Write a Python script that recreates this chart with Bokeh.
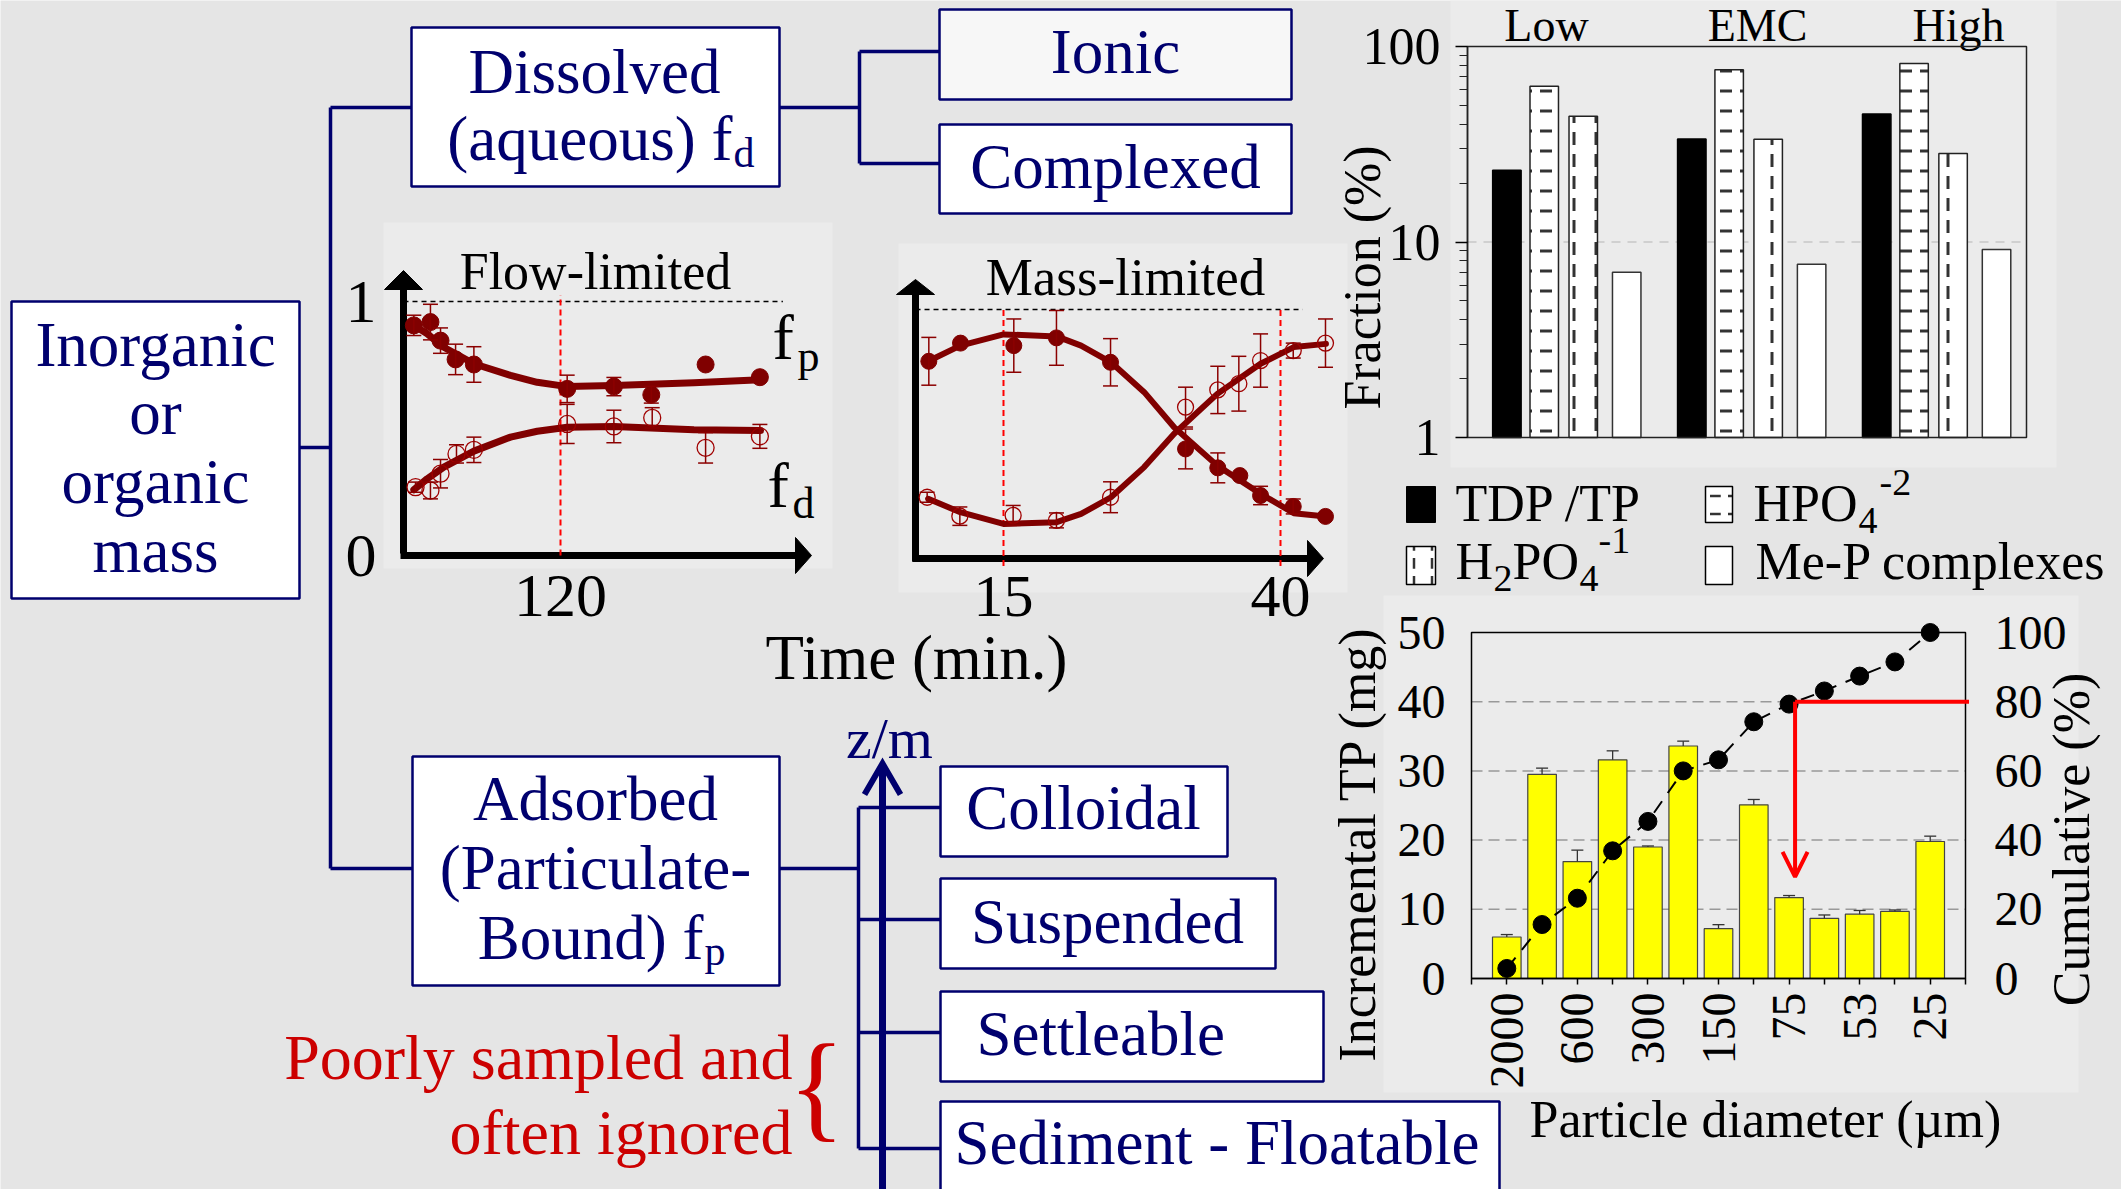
import math
from bokeh.plotting import figure
from bokeh.models import (Range1d, LinearAxis, LogAxis, LogScale, FixedTicker, Whisker, TeeHead,
                          ColumnDataSource, Arrow, OpenHead, PrintfTickFormatter)
from bokeh.core.properties import value
from bokeh.embed import file_html
from bokeh.resources import INLINE

W, H = 2121, 1189
FONT = "Liberation Serif"
NAVY = "#00006e"
BG = "#e5e5e5"
PANEL = "#ebebeb"
MAROON = "#800000"
RED_T = "#cc0000"

# ---------------- data: P speciation (top right, log scale %) ----------------
spec_groups = ["Low", "EMC", "High"]
tdp_tp = [23.3, 33.6, 45.1]
hpo4 = [62.6, 76.0, 81.9]
h2po4 = [44.0, 33.5, 28.4]
mep = [7.0, 7.7, 9.15]

# ---------------- data: particle size distribution (bottom right) ----------------
diam_labels = ["2000", "", "600", "", "300", "", "150", "", "75", "", "53", "", "25"]
incr_tp = [6.0, 29.5, 16.9, 31.6, 19.0, 33.6, 7.2, 25.1, 11.7, 8.7, 9.3, 9.7, 19.8]
incr_err = [0.35, 0.9, 1.65, 1.3, 0.15, 0.7, 0.58, 0.77, 0.29, 0.48, 0.53, 0.2, 0.77]
cum_pct = [2.9, 15.6, 23.2, 36.9, 45.4, 60.0, 63.2, 74.2, 79.3, 83.1, 87.4, 91.5, 100.0]
d80_level = 80
d80_x = 9.17
d80_arrow_to = 29.4

# ---------------- data: flow-limited schematic ----------------
flow_t_fp = [7.9, 20.6, 28.3, 39.8, 53.8, 125.1, 160.8, 189.4, 230.9, 272.4]
flow_fp = [0.906, 0.919, 0.846, 0.772, 0.752, 0.656, 0.665, 0.633, 0.752, 0.702]
flow_fp_err = [0.04, 0.07, 0.05, 0.06, 0.07, 0.054, 0.036, 0.033, 0, 0]
flow_t_fd = [9.2, 20.6, 28.3, 40.5, 53.8, 125.1, 160.8, 190.1, 230.9, 272.4]
flow_fd = [0.269, 0.256, 0.322, 0.400, 0.416, 0.518, 0.508, 0.542, 0.424, 0.469]
flow_fd_err = [0.02, 0.033, 0.056, 0.036, 0.05, 0.077, 0.064, 0.04, 0.06, 0.047]
flow_fit_t = [7.9, 18.1, 30.8, 53.8, 81.8, 102.2, 125.1, 160.8, 222.0, 272.9]
flow_fp_fit = [0.906, 0.873, 0.820, 0.755, 0.709, 0.682, 0.665, 0.669, 0.680, 0.692]
flow_fd_fit = [0.259, 0.302, 0.348, 0.411, 0.466, 0.489, 0.505, 0.508, 0.495, 0.492]
flow_ticks = [120]
flow_ref_end = 290

# ---------------- data: mass-limited schematic ----------------
mass_t_fp = [8.26, 11.12, 15.93, 19.78, 24.66, 31.43, 34.34, 36.33, 38.2, 41.15, 44.06]
mass_fp = [0.792, 0.865, 0.855, 0.886, 0.788, 0.440, 0.364, 0.333, 0.253, 0.209, 0.169]
mass_fp_err = [0.096, 0, 0.107, 0.11, 0.095, 0.08, 0.06, 0, 0.037, 0.03, 0]
mass_t_fd = [8.11, 11.06, 15.87, 19.78, 24.66, 31.43, 34.34, 36.24, 38.2, 41.15, 44.06]
mass_fd = [0.246, 0.170, 0.173, 0.153, 0.246, 0.608, 0.677, 0.702, 0.795, 0.835, 0.865]
mass_fd_err = [0.02, 0.037, 0.04, 0.03, 0.062, 0.08, 0.095, 0.11, 0.107, 0.03, 0.097]
mass_fit_t = [8.2, 11.1, 15.0, 19.8, 22.0, 24.7, 27.7, 30.4, 34.3, 38.2, 41.2, 44.1]
mass_fp_fit = [0.792, 0.855, 0.900, 0.892, 0.855, 0.788, 0.668, 0.527, 0.373, 0.260, 0.182, 0.169]
mass_fd_fit = [0.240, 0.186, 0.139, 0.146, 0.179, 0.246, 0.367, 0.501, 0.661, 0.782, 0.849, 0.862]
mass_ticks = [15, 40]
mass_ref_end = 42.0


# =====================================================================
# one canvas; default ranges are pixel coordinates (y downward)
# =====================================================================
p = figure(width=W, height=H, x_range=Range1d(0, W), y_range=Range1d(H, 0),
           output_backend="svg", toolbar_location=None, min_border=0,
           x_axis_location=None, y_axis_location=None,
           background_fill_color=BG, border_fill_color=BG, outline_line_color=None)
p.grid.visible = False


def xr(px_a, d_a, px_b, d_b):
    """range so that pixel column px_a shows d_a and px_b shows d_b"""
    s = (d_b - d_a) / (px_b - px_a)
    return (d_a - px_a * s, d_a + (W - px_a) * s)


def yr(py_a, d_a, py_b, d_b):
    """py measured from the top of the canvas"""
    s = (d_b - d_a) / (py_a - py_b)
    return (d_a - (H - py_a) * s, d_a + py_a * s)


# chart data windows
flow_x0, flow_x1 = 0, 311
mass_x0, mass_x1 = 7.06, 45.8
frac_x0, frac_x1 = -0.537, 2.486
tp_x0, tp_x1 = 0, len(incr_tp) + 1

fx = xr(403, 0, 560, 120)
fy = yr(555, 0, 301, 1)
mx = xr(1003, 15, 1280, 40)
my = yr(558, 0, 309, 1)
sx = xr(1467, frac_x0, 2026, frac_x1)
sy_log = yr(437, 0.0, 46, 2.0)
tx = xr(1471, tp_x0, 1965, tp_x1)
ty = yr(978, 0, 632, 50)
cy = yr(978, 0, 632, 100)

p.extra_x_ranges = {"flowx": Range1d(*fx), "massx": Range1d(*mx),
                    "fracx": Range1d(*sx), "tpx": Range1d(*tx)}
p.extra_y_ranges = {"flowy": Range1d(*fy), "massy": Range1d(*my),
                    "frac": Range1d(10 ** sy_log[0], 10 ** sy_log[1]),
                    "tpy": Range1d(*ty), "cum": Range1d(*cy)}
p.extra_y_scales = {"frac": LogScale()}


def txt(x, y, s, size, color="black", align="center", angle=0.0, baseline="alphabetic", shift=None):
    if shift is None:
        shift = 0.32 * size if baseline == "alphabetic" else 0
    p.text(x=[x], y=[y - shift], text=[s], text_font=value(FONT), text_font_size=f"{size}px",
           text_color=color, text_align=align, text_baseline=baseline, angle=angle)


def style_axis(ax, size, standoff, tick_out=0):
    ax.major_label_text_font = FONT
    ax.major_label_text_font_size = f"{size}px"
    ax.major_label_text_color = "black"
    ax.major_label_standoff = standoff
    ax.minor_tick_line_color = None
    ax.major_tick_in = 0
    ax.major_tick_out = tick_out
    if tick_out == 0:
        ax.major_tick_line_color = None


def err_bars(xs, ys, es, color, head, xn, yn, width=1.5, lower=True):
    b = [x for x, e in zip(xs, es) if e > 0]
    lo = [y - e if lower else y for y, e in zip(ys, es) if e > 0]
    up = [y + e for y, e in zip(ys, es) if e > 0]
    src = ColumnDataSource(dict(base=b, lower=lo, upper=up))
    w = Whisker(source=src, base="base", lower="lower", upper="upper",
                x_range_name=xn, y_range_name=yn,
                line_color=color, line_width=width, level="glyph",
                upper_head=TeeHead(size=head, line_color=color, line_width=width),
                lower_head=TeeHead(size=head, line_color=color, line_width=width) if lower else None)
    p.add_layout(w)


# ---------------- panels ----------------
p.quad(left=[383, 898, 1450, 1383], right=[832, 1347, 2056, 2078],
       top=[222, 243, 0, 595], bottom=[568, 592, 467, 1092],
       fill_color=PANEL, line_color=None)

# ---------------- diagram ----------------
conn = [
    ([299, 330], [447, 447]), ([330, 330], [107, 868]), ([330, 411], [107, 107]),
    ([330, 412], [868, 868]), ([779, 859], [107, 107]), ([859, 859], [51, 163]),
    ([859, 939], [51, 51]), ([859, 939], [163, 163]), ([779, 858], [868, 868]),
    ([858, 858], [807, 1148]), ([858, 940], [807, 807]), ([858, 940], [919, 919]),
    ([858, 940], [1032, 1032]), ([858, 940], [1148, 1148]),
]
p.multi_line(xs=[c[0] for c in conn], ys=[c[1] for c in conn], line_color=NAVY, line_width=3.5)

boxes = [
    (11, 299, 301, 598, "white"), (411, 779, 27, 186, "white"),
    (939, 1291, 9, 99, "#f7f7f7"), (939, 1291, 124, 213, "white"),
    (412, 779, 756, 985, "white"), (940, 1227, 766, 856, "white"),
    (940, 1275, 878, 968, "white"), (940, 1323, 991, 1081, "white"),
    (940, 1499, 1101, 1210, "white"),
]
p.quad(left=[b[0] for b in boxes], right=[b[1] for b in boxes],
       top=[b[2] for b in boxes], bottom=[b[3] for b in boxes],
       fill_color=[b[4] for b in boxes], line_color=NAVY, line_width=2.5)

p.line(x=[882, 882], y=[1189, 764], line_color=NAVY, line_width=7)
p.line(x=[864, 882, 900], y=[794, 763, 794], line_color=NAVY, line_width=6, line_join="miter")
txt(889, 757, "z/m", 58, NAVY)

DF = 63
SH = 0.32 * DF
for s, yy in [("Inorganic", 365), ("or", 433), ("organic", 502), ("mass", 571)]:
    txt(155, yy, s, DF, NAVY)
txt(594, 92, "Dissolved", DF, NAVY)
txt(732, 159, "(aqueous) f", DF, NAVY, align="right")
txt(733, 173, "d", 42, NAVY, align="left", shift=SH)
txt(1115, 72, "Ionic", DF, NAVY)
txt(1115, 187, "Complexed", DF, NAVY)
txt(595, 819, "Adsorbed", DF, NAVY)
txt(595, 888, "(Particulate-", DF, NAVY)
txt(703, 958, "Bound) f", DF, NAVY, align="right")
txt(704, 971, "p", 42, NAVY, align="left", shift=SH)
txt(1083, 828, "Colloidal", DF, NAVY)
txt(1107, 942, "Suspended", DF, NAVY)
txt(976, 1054, "Settleable", DF, NAVY, align="left")
txt(954, 1163, "Sediment - Floatable", DF, NAVY, align="left")
txt(792, 1077, "Poorly sampled and", 64, RED_T, align="right")
txt(792, 1152, "often ignored", 64, RED_T, align="right")
txt(816, 1124, "{", 118, RED_T)

# schematic chart axes (arrows)
p.line(x=[403, 403], y=[553, 286], line_color="black", line_width=7)
p.line(x=[400, 797], y=[555, 555], line_color="black", line_width=7)
p.line(x=[915, 915], y=[561, 292], line_color="black", line_width=7)
p.line(x=[912, 1309], y=[558, 558], line_color="black", line_width=7)
p.patches(xs=[[384, 422, 403], [795, 795, 811], [896, 934, 915], [1307, 1307, 1323]],
          ys=[[289, 289, 270], [537, 573, 555], [294, 294, 279], [540, 576, 558]],
          fill_color="black", line_color="black")

txt(595, 288, "Flow-limited", 52)
txt(1125, 293, "Mass-limited", 53)
txt(916, 672, "Time (min.)", 63, shift=15)
FS = 0.32 * 64
txt(772, 357, "f", 64, align="left")
txt(797, 376, "p", 44, align="left", shift=FS)
txt(767, 505, "f", 64, align="left")
txt(792, 523, "d", 44, align="left", shift=FS)

# top-right titles & legend
for g, xx in zip(spec_groups, [1546, 1757, 1958]):
    txt(xx, 40, g, 46)
txt(1362, 277, "Fraction (%)", 52, angle=math.pi / 2, baseline="middle")

p.quad(left=[1406], right=[1435], top=[486], bottom=[522], fill_color="black", line_color="black")
p.quad(left=[1705], right=[1732], top=[486], bottom=[522], fill_color="white", line_color="black",
       line_width=1.5, hatch_pattern="horizontal_dash", hatch_scale=18, hatch_weight=2.5,
       hatch_color="#333333")
p.quad(left=[1406], right=[1435], top=[546], bottom=[584], fill_color="white", line_color="black",
       line_width=1.5, hatch_pattern="vertical_dash", hatch_scale=18, hatch_weight=2.5,
       hatch_color="#333333")
p.quad(left=[1705], right=[1732], top=[546], bottom=[584], fill_color="white", line_color="black",
       line_width=1.5)
LF = 52
LS = 0.32 * LF
txt(1455, 520, "TDP /TP", LF, align="left")
txt(1753, 520, "HPO", LF, align="left")
txt(1858, 537, "4", 38, align="left", shift=LS)
txt(1879, 499, "-2", 38, align="left", shift=LS)
txt(1455, 578, "H", LF, align="left")
txt(1493, 595, "2", 38, align="left", shift=LS)
txt(1512, 578, "PO", LF, align="left")
txt(1579, 595, "4", 38, align="left", shift=LS)
txt(1598, 557, "-1", 38, align="left", shift=LS)
txt(1755, 578, "Me-P complexes", LF, align="left")

txt(1357, 843, "Incremental TP (mg)", 52, angle=math.pi / 2, baseline="middle")
txt(2071, 839, "Cumulative (%)", 52, angle=math.pi / 2, baseline="middle")
txt(1765, 1136, "Particle diameter (\u00b5m)", 52)

# =====================================================================
# flow-limited chart
# =====================================================================
F = dict(x_range_name="flowx", y_range_name="flowy")
p.segment(x0=[flow_x0], y0=[1], x1=[flow_ref_end], y1=[1], line_color="black",
          line_width=1.5, line_dash="5 4", **F)
p.segment(x0=flow_ticks, y0=[0], x1=flow_ticks, y1=[1.025], line_color="red",
          line_width=2, line_dash="6 4", **F)
p.line(flow_fit_t, flow_fp_fit, line_color=MAROON, line_width=7, line_cap="round", line_join="round", **F)
p.line(flow_fit_t, flow_fd_fit, line_color=MAROON, line_width=7, line_cap="round", line_join="round", **F)
err_bars(flow_t_fp, flow_fp, flow_fp_err, "#8b0000", 15, "flowx", "flowy")
err_bars(flow_t_fd, flow_fd, flow_fd_err, "#8b0000", 15, "flowx", "flowy")
p.scatter(flow_t_fp, flow_fp, size=17, fill_color=MAROON, line_color=MAROON, **F)
p.scatter(flow_t_fd, flow_fd, size=17, fill_color=None, line_color="#a00000", line_width=1.3, **F)

ax = LinearAxis(fixed_location=flow_x0, bounds=(0, 1), ticker=FixedTicker(ticks=[0, 1]), **F)
style_axis(ax, 62, 27)
ax.axis_line_color = None
p.add_layout(ax, "left")
ax = LinearAxis(fixed_location=0, bounds=(flow_x0, flow_x1), ticker=FixedTicker(ticks=flow_ticks), **F)
style_axis(ax, 62, 20)
ax.axis_line_color = None
p.add_layout(ax, "below")

# =====================================================================
# mass-limited chart
# =====================================================================
M = dict(x_range_name="massx", y_range_name="massy")
p.segment(x0=[mass_x0], y0=[1], x1=[mass_ref_end], y1=[1], line_color="black",
          line_width=1.5, line_dash="5 4", **M)
p.segment(x0=mass_ticks, y0=[-0.03, -0.03], x1=mass_ticks, y1=[1.01, 1.01], line_color="red",
          line_width=2, line_dash="6 4", **M)
p.line(mass_fit_t, mass_fp_fit, line_color=MAROON, line_width=6, line_cap="round", line_join="round", **M)
p.line(mass_fit_t, mass_fd_fit, line_color=MAROON, line_width=6, line_cap="round", line_join="round", **M)
err_bars(mass_t_fp, mass_fp, mass_fp_err, "#8b0000", 15, "massx", "massy")
err_bars(mass_t_fd, mass_fd, mass_fd_err, "#8b0000", 15, "massx", "massy")
p.scatter(mass_t_fp, mass_fp, size=16, fill_color=MAROON, line_color=MAROON, **M)
p.scatter(mass_t_fd, mass_fd, size=16, fill_color=None, line_color="#a00000", line_width=1.3, **M)

ax = LinearAxis(fixed_location=0, bounds=(mass_x0, mass_x1), ticker=FixedTicker(ticks=mass_ticks), **M)
style_axis(ax, 60, 18)
ax.axis_line_color = None
p.add_layout(ax, "below")

# =====================================================================
# speciation chart (log)
# =====================================================================
S = dict(x_range_name="fracx", y_range_name="frac")
p.segment(x0=[frac_x0], y0=[10], x1=[frac_x1], y1=[10], line_color="#c8c8c8",
          line_width=1.5, line_dash="9 7", **S)
bar_offsets = [-0.324, -0.122, 0.089, 0.324]
spec_styles = [
    (tdp_tp, dict(fill_color="black", line_color="black")),
    (hpo4, dict(fill_color="white", line_color="#222222", hatch_pattern="horizontal_dash",
                hatch_scale=20, hatch_weight=3, hatch_color="#333333")),
    (h2po4, dict(fill_color="white", line_color="#222222", hatch_pattern="vertical_dash",
                 hatch_scale=22, hatch_weight=3, hatch_color="#333333")),
    (mep, dict(fill_color="white", line_color="#333333")),
]
for k, (vals, sty) in enumerate(spec_styles):
    xs = [g + bar_offsets[k] for g in range(len(spec_groups))]
    p.vbar(x=xs, top=vals, bottom=1, width=0.154, line_width=1.5, **sty, **S)
p.quad(left=[frac_x0], right=[frac_x1], bottom=[1], top=[100], fill_color=None,
       line_color="#222222", line_width=1.5, **S)

ax = LogAxis(fixed_location=frac_x0, bounds=(1, 100),
             ticker=FixedTicker(ticks=[1, 10, 100],
                                minor_ticks=[2, 3, 4, 5, 6, 7, 8, 9, 20, 30, 40, 50, 60, 70, 80, 90]),
             formatter=PrintfTickFormatter(format="%d"), **S)
style_axis(ax, 52, 15, tick_out=12)
ax.minor_tick_line_color = "#222222"
ax.minor_tick_out = 8
ax.minor_tick_in = 0
ax.major_tick_line_width = 1.5
ax.minor_tick_line_width = 1.2
ax.axis_line_width = 1.5
ax.axis_line_color = "#222222"
p.add_layout(ax, "left")

# =====================================================================
# particle size chart
# =====================================================================
T = dict(x_range_name="tpx", y_range_name="tpy")
C = dict(x_range_name="tpx", y_range_name="cum")
p.segment(x0=[tp_x0] * 4, x1=[tp_x1] * 4, y0=[10, 20, 30, 40], y1=[10, 20, 30, 40],
          line_color="#999999", line_width=1.5, line_dash="11 6", **T)
bar_x = [i + 1 for i in range(len(incr_tp))]
p.vbar(x=bar_x, top=incr_tp, width=0.81, fill_color="#ffff00", line_color="#444444", line_width=1.2, **T)
err_bars(bar_x, incr_tp, incr_err, "#333333", 12, "tpx", "tpy", width=1.3, lower=False)
p.line(bar_x, cum_pct, line_color="black", line_width=2, line_dash="14 10", **C)
p.scatter(bar_x, cum_pct, size=18, fill_color="black", line_color="black", **C)
p.quad(left=[tp_x0], right=[tp_x1], bottom=[0], top=[50], fill_color=None,
       line_color="black", line_width=1.5, **T)
p.segment(x0=[d80_x], y0=[d80_level], x1=[tp_x1 + 0.1], y1=[d80_level],
          line_color="#ff0000", line_width=4, **C)
p.add_layout(Arrow(x_start=d80_x, y_start=d80_level, x_end=d80_x, y_end=d80_arrow_to,
                   line_color="#ff0000", line_width=4,
                   end=OpenHead(size=25, line_color="#ff0000", line_width=4), **C))

ax = LinearAxis(fixed_location=tp_x0, bounds=(0, 50),
                ticker=FixedTicker(ticks=[0, 10, 20, 30, 40, 50]), **T)
style_axis(ax, 48, 26)
ax.axis_line_color = None
p.add_layout(ax, "left")

ax = LinearAxis(fixed_location=tp_x1, bounds=(0, 100),
                ticker=FixedTicker(ticks=[0, 20, 40, 60, 80, 100]), **C)
style_axis(ax, 48, 29)
ax.axis_line_color = None
p.add_layout(ax, "right")

overrides = {tp_x0: "", tp_x1: ""}
for xv, lab in zip(bar_x, diam_labels):
    overrides[xv] = lab
ax = LinearAxis(fixed_location=0, bounds=(tp_x0, tp_x1),
                ticker=FixedTicker(ticks=list(range(tp_x0, tp_x1 + 1))),
                major_label_overrides=overrides, **T)
style_axis(ax, 48, 8, tick_out=6)
ax.major_label_orientation = math.pi / 2
ax.axis_line_color = "black"
ax.axis_line_width = 1.5
ax.major_tick_line_width = 1.5
p.add_layout(ax, "below")

open("out.html", "w").write(file_html(p, INLINE))
